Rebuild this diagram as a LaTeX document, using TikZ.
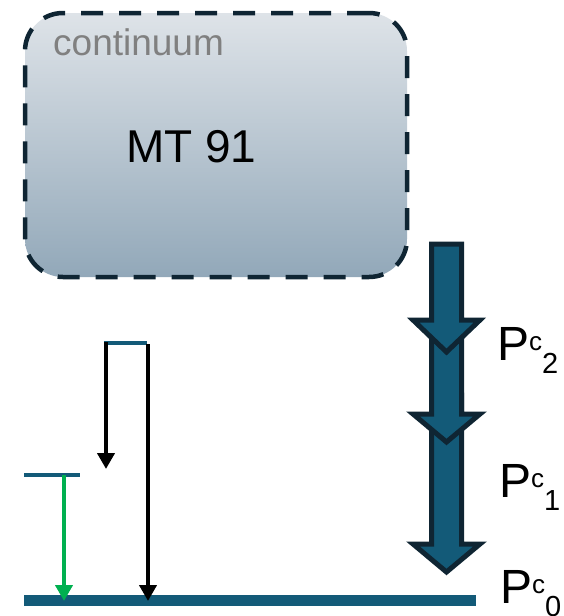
\documentclass[tikz,border=0pt]{standalone}
\usepackage{fontspec}
\setmainfont{Liberation Sans}
\usetikzlibrary{arrows.meta}
\definecolor{lvlblue}{HTML}{135A78}
\definecolor{edgedark}{HTML}{0F2533}
\definecolor{greenarr}{HTML}{00B050}
\definecolor{boxtop}{HTML}{DEE3E8}
\definecolor{boxbot}{HTML}{92A8B9}
\definecolor{graytext}{HTML}{808080}
\newcommand\Pcmark[1]{\fontsize{48}{50}\selectfont P\raisebox{10pt}{\fontsize{26}{28}\selectfont c}\raisebox{-13pt}{\fontsize{29}{30}\selectfont #1}}
\tikzset{
  contbox/.style={draw=edgedark, line width=4.5pt, dash pattern=on 22pt off 16pt,
    rounded corners=38pt, minimum width=382pt, minimum height=264pt,
    top color=boxtop, bottom color=boxbot, inner sep=0pt},
  bigarrow/.style={draw=edgedark, fill=lvlblue, line width=5pt, line join=miter},
  level/.style={draw=lvlblue},
  trans/.style={line width=4.5pt, -{Triangle[length=16pt,width=17pt]}},
  plabel/.style={anchor=base west, inner sep=0pt}
}
\begin{document}
\begin{tikzpicture}[x=1pt,y=-1pt]
\useasboundingbox (0,0) rectangle (564,616);
\node[contbox] (cont) at (216,145) {};
\node[anchor=base west, inner sep=0pt, text=graytext, font=\fontsize{37}{40}\selectfont] (ctext) at (53,55) {continuum};
\node[anchor=base west, inner sep=0pt, font=\fontsize{46}{50}\selectfont] (mt) at (126,162) {MT 91};
% big arrows (bottom first)
\draw[bigarrow] (431.5,395) -- (461.5,395) -- (461.5,544) -- (480,544) -- (446.5,572) -- (413,544) -- (431.5,544) -- cycle;
\draw[bigarrow] (431.5,335) -- (461.5,335) -- (461.5,414) -- (480,414) -- (446.5,442) -- (413,414) -- (431.5,414) -- cycle;
\draw[bigarrow] (431.5,244) -- (461.5,244) -- (461.5,320) -- (480,320) -- (446.5,352) -- (413,320) -- (431.5,320) -- cycle;
% levels
\coordinate (g0a) at (24,600); \coordinate (g0b) at (476,600);
\coordinate (l1a) at (24,475); \coordinate (l1b) at (80,475);
\coordinate (l2a) at (104,343); \coordinate (l2b) at (147,343);
\draw[level, line width=11pt] (g0a) -- (g0b);
\draw[level, line width=4pt] (l1a) -- (l1b);
\draw[level, line width=3.5pt] (l2a) -- (l2b);
% transitions
\coordinate (t1s) at (106,342); \coordinate (t1e) at (106,469);
\coordinate (t2s) at (148,344); \coordinate (t2e) at (148,601);
\coordinate (t3s) at (64,475); \coordinate (t3e) at (64,601);
\draw[trans, black] (t1s) -- (t1e);
\draw[trans, black] (t2s) -- (t2e);
\draw[trans, greenarr] (t3s) -- (t3e);
% labels
\node[plabel] (p2) at (497,360) {\Pcmark{2}};
\node[plabel] (p1) at (499,497) {\Pcmark{1}};
\node[plabel] (p0) at (500,603) {\Pcmark{0}};
\end{tikzpicture}
\end{document}
